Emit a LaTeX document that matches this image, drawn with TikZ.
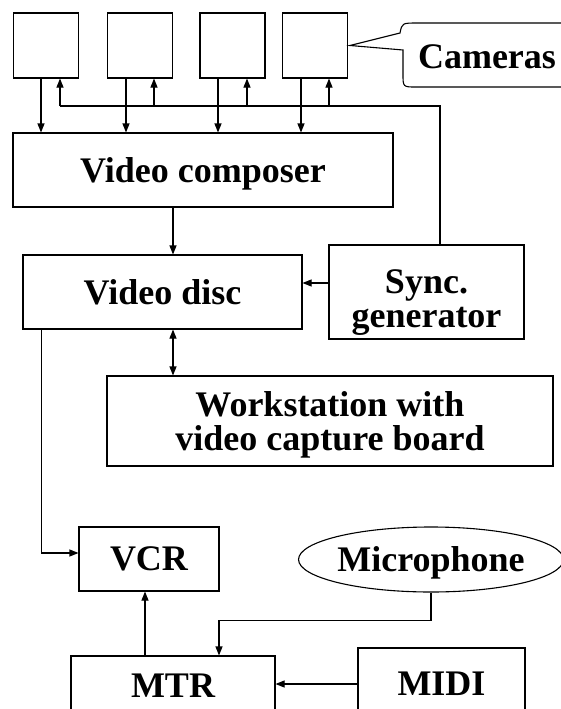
\documentclass[tikz,border=0pt]{standalone}
\usepackage{fontspec}
\setmainfont{Liberation Serif}
\usetikzlibrary{arrows.meta, shapes.geometric}

\begin{document}
\begin{tikzpicture}
    [
        x=1pt, y=-1pt,
        line width=1.1pt,
        every node/.style = {font=\bfseries\fontsize{36}{34}\selectfont, text depth=0pt},
        block/.style = {
                draw,
                rectangle,
                inner sep=0pt,
                align=center
            },
        cambox/.style = {block, minimum width=65pt, minimum height=65pt},
        arr/.style = {-{Triangle[length=9pt,width=7pt]}},
        biarr/.style = {{Triangle[length=9pt,width=7pt]}-{Triangle[length=9pt,width=7pt]}},
    ]

    \useasboundingbox (0,0) rectangle (561,709);
    \clip (0,0) rectangle (561,709);
    \fill [white] (0,0) rectangle (561,709);

    % cameras and the note
    \node [cambox] (cam1) at (46,45.5) {};
    \node [cambox] (cam2) at (140,45.5) {};
    \node [cambox] (cam3) at (232.5,45.5) {};
    \node [cambox] (cam4) at (315,45.5) {};
    \draw (350,45.5) -- (400,33) .. controls (402,23) .. (418,23) -- (600,23) -- (600,87)
        -- (416,87) .. controls (403,87) .. (403,74) -- (403,50) -- cycle;
    \node (camnote) at (487,57) {Cameras};

    % blocks
    \node [block, minimum width=380pt, minimum height=74pt] (composer) at (203,170) {Video composer};
    \node [block, minimum width=279pt, minimum height=74pt] (disc) at (162.5,292) {Video disc};
    \node [block, minimum width=195pt, minimum height=94pt, text height=71pt] (sync) at (426.5,292) {Sync.\\generator};
    \node [block, minimum width=446pt, minimum height=90pt] (work) at (330,421) {Workstation with\\video capture board};
    \node [block, minimum width=140pt, minimum height=64pt] (vcr) at (149,559) {VCR};
    \node [draw, ellipse, inner sep=0pt, minimum width=256pt, minimum height=65pt] (mic) at (431,559.5) {Microphone};
    \node [block, minimum width=204pt, minimum height=60pt] (mtr) at (173,686) {MTR};
    \node [block, minimum width=167pt, minimum height=72pt] (midi) at (441.5,684) {MIDI};

    \coordinate (bus) at (440,106);
    \coordinate (spine) at (173,0);

    \foreach \cam/\dn/\up in {cam1/-5/14, cam2/-14/14, cam3/-14.5/14.5, cam4/-14/14}
    {
        \draw [arr] ([xshift=\dn pt]\cam.south) -- ([xshift=\dn pt]\cam.south |- composer.north);
        \draw [arr] ([xshift=\up pt]\cam.south |- bus) -- ([xshift=\up pt]\cam.south);
    }
    \draw (sync.north -| bus) -- (bus) -- ([xshift=14pt]cam1.south |- bus);

    \draw [arr] (composer.south -| spine) -- (disc.north -| spine);
    \draw [arr] ([yshift=9pt]sync.west) -- ([yshift=9pt]sync.west -| disc.east);
    \draw [biarr] (disc.south -| spine) -- (work.north -| spine);
    \draw [arr] ([xshift=19pt]disc.south west) |- ([yshift=6pt]vcr.west);
    \draw [arr] ([xshift=-28pt]mtr.north) -- ([xshift=-28pt]mtr.north |- vcr.south);
    \draw [arr] (mic.south) -- ++(0,28) -| ([xshift=46pt]mtr.north);
    \draw [arr] (midi.west) -- (midi.west -| mtr.east);

\end{tikzpicture}
\end{document}
